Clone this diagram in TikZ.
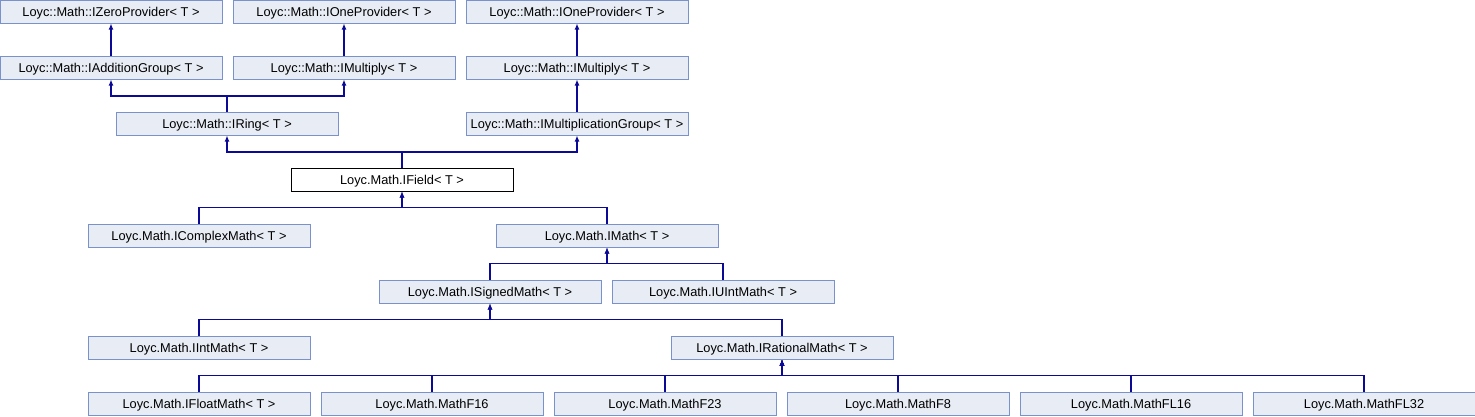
\documentclass[tikz,border=0pt]{standalone}
\usepackage{fontspec}
\setmainfont{Liberation Sans}
\usetikzlibrary{arrows.meta}
\definecolor{boxfill}{RGB}{232,236,245}
\definecolor{boxline}{RGB}{122,146,204}
\definecolor{edgecol}{RGB}{10,10,150}
\tikzset{
  cls/.style={draw=boxline, fill=boxfill, line width=1pt, minimum width=222pt, minimum height=23pt, inner sep=0pt, text height=11.4pt, text depth=0.6pt, font=\fontsize{12.8}{15}\selectfont},
  cur/.style={cls, draw=black, fill=white},
  edge/.style={draw=edgecol, line width=1.3pt, -{Latex[length=6pt,width=5pt]}}
}
\begin{document}
\begin{tikzpicture}[x=1pt,y=1pt]
\useasboundingbox (0,0) rectangle (1475,-416);
% row 0
\node[cls] (zp) at (111,-11.5) {Loyc::Math::IZeroProvider< T >};
\node[cls] (op1) at (344,-11.5) {Loyc::Math::IOneProvider< T >};
\node[cls] (op2) at (577,-11.5) {Loyc::Math::IOneProvider< T >};
% row 1
\node[cls] (ag) at (111,-67.5) {Loyc::Math::IAdditionGroup< T >};
\node[cls] (mul1) at (344,-67.5) {Loyc::Math::IMultiply< T >};
\node[cls] (mul2) at (577,-67.5) {Loyc::Math::IMultiply< T >};
% row 2
\node[cls] (ring) at (227,-123.5) {Loyc::Math::IRing< T >};
\node[cls] (mg) at (577,-123.5) {Loyc::Math::IMultiplicationGroup< T >};
% row 3
\node[cur] (field) at (402,-179.5) {Loyc.Math.IField< T >};
% row 4
\node[cls] (cm) at (199,-235.5) {Loyc.Math.IComplexMath< T >};
\node[cls] (math) at (607,-235.5) {Loyc.Math.IMath< T >};
% row 5
\node[cls] (sm) at (490,-291.5) {Loyc.Math.ISignedMath< T >};
\node[cls] (um) at (723,-291.5) {Loyc.Math.IUIntMath< T >};
% row 6
\node[cls] (im) at (199,-347.5) {Loyc.Math.IIntMath< T >};
\node[cls] (rm) at (782,-347.5) {Loyc.Math.IRationalMath< T >};
% row 7
\node[cls] (fm) at (199,-403.5) {Loyc.Math.IFloatMath< T >};
\node[cls] (f16) at (432,-403.5) {Loyc.Math.MathF16};
\node[cls] (f23) at (665,-403.5) {Loyc.Math.MathF23};
\node[cls] (f8) at (898,-403.5) {Loyc.Math.MathF8};
\node[cls] (fl16) at (1131,-403.5) {Loyc.Math.MathFL16};
\node[cls] (fl32) at (1364,-403.5) {Loyc.Math.MathFL32};
% edges
\draw[edge] (ag.north) -- (zp.south);
\draw[edge] (mul1.north) -- (op1.south);
\draw[edge] (mul2.north) -- (op2.south);
\draw[edge] (mg.north) -- (mul2.south);
\draw[edge] (ring.north) -- ++(0,15.5) -| (ag.south);
\draw[edge] (ring.north) -- ++(0,15.5) -| (mul1.south);
\draw[edge] (field.north) -- ++(0,15.5) -| (ring.south);
\draw[edge] (field.north) -- ++(0,15.5) -| (mg.south);
\draw[edge] (cm.north) -- ++(0,16) -| (field.south);
\draw[edge] (math.north) -- ++(0,16) -| (field.south);
\draw[edge] (sm.north) -- ++(0,16) -| (math.south);
\draw[edge] (um.north) -- ++(0,16) -| (math.south);
\draw[edge] (im.north) -- ++(0,16) -| (sm.south);
\draw[edge] (rm.north) -- ++(0,16) -| (sm.south);
\draw[edge] (fm.north) -- ++(0,16) -| (rm.south);
\draw[edge] (f16.north) -- ++(0,16) -| (rm.south);
\draw[edge] (f23.north) -- ++(0,16) -| (rm.south);
\draw[edge] (f8.north) -- ++(0,16) -| (rm.south);
\draw[edge] (fl16.north) -- ++(0,16) -| (rm.south);
\draw[edge] (fl32.north) -- ++(0,16) -| (rm.south);
\end{tikzpicture}
\end{document}
